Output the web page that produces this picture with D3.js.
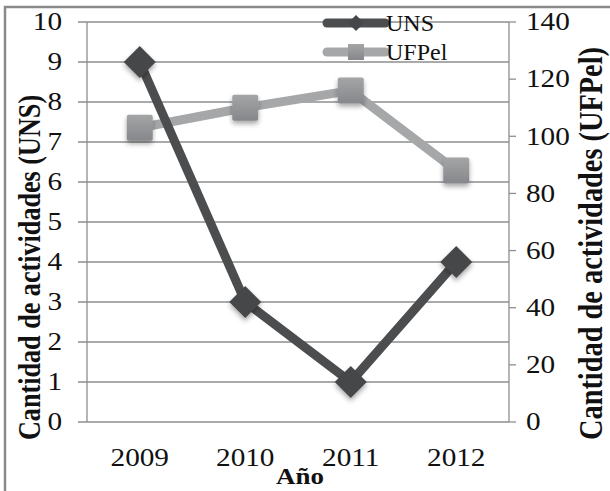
<!DOCTYPE html>
<html><head><meta charset="utf-8">
<script src="https://cdn.jsdelivr.net/npm/d3@7"></script>
<style>body{margin:0;background:#fff}svg{display:block}</style>
</head><body>
<script>
const years = ["2009","2010","2011","2012"];
const uns = [9, 3, 1, 4];
const ufpel = [103, 110, 116, 88];
const leftTicks = [0,1,2,3,4,5,6,7,8,9,10];
const rightTicks = [0,20,40,60,80,100,120,140];

const W = 610, H = 491;
const FONT = "'Liberation Serif', 'Times New Roman', 'DejaVu Serif', serif";
const SX = 1.17;
const svg = d3.select("body").append("svg").attr("width", W).attr("height", H)
  .attr("font-family", FONT);
const defs = svg.append("defs");
const f = defs.append("filter").attr("id","sh").attr("x","-50%").attr("y","-50%").attr("width","200%").attr("height","200%");
f.append("feDropShadow").attr("dx",0).attr("dy",3).attr("stdDeviation",2.5).attr("flood-color","#000").attr("flood-opacity",0.35);
const g1 = defs.append("linearGradient").attr("id","sq").attr("x1",0).attr("y1",0).attr("x2",0).attr("y2",1);
g1.append("stop").attr("offset","0%").attr("stop-color","#a3a5a7");
g1.append("stop").attr("offset","100%").attr("stop-color","#85878a");

// frame
svg.append("rect").attr("x",5).attr("y",7).attr("width",W+10).attr("height",H+10)
  .attr("fill","none").attr("stroke","#8a8a8a").attr("stroke-width",2.5);

const L = 87, R = 509, T = 22, B = 422;
const x = d3.scaleBand().domain(years).range([L,R]);
const yL = d3.scaleLinear().domain([0,10]).range([B,T]);
const yR = d3.scaleLinear().domain([0,140]).range([B,T]);

// gridlines
svg.append("g").selectAll("line").data(leftTicks).join("line")
  .attr("x1",78).attr("x2",R).attr("y1",d=>yL(d)).attr("y2",d=>yL(d))
  .attr("stroke","#8e8e8e").attr("stroke-width",1.3);
// axis lines
svg.append("line").attr("x1",L).attr("x2",L).attr("y1",T).attr("y2",B).attr("stroke","#8e8e8e").attr("stroke-width",1.3);
svg.append("line").attr("x1",R).attr("x2",R).attr("y1",T).attr("y2",B).attr("stroke","#8e8e8e").attr("stroke-width",1.3);
svg.append("g").selectAll("line").data(rightTicks).join("line")
  .attr("x1",R).attr("x2",516).attr("y1",d=>yR(d)).attr("y2",d=>yR(d))
  .attr("stroke","#8e8e8e").attr("stroke-width",1.3);

const FS = 25;
// tick labels
svg.append("g").selectAll("text").data(leftTicks).join("text")
  .attr("transform",d=>`translate(62,${yL(d)}) scale(${SX},1)`).attr("dy","0.33em").attr("text-anchor","end")
  .attr("font-size",FS).attr("fill","#111").text(d=>d);
svg.append("g").selectAll("text").data(rightTicks).join("text")
  .attr("transform",d=>`translate(526,${yR(d)}) scale(${SX},1)`).attr("dy","0.33em").attr("text-anchor","start")
  .attr("font-size",FS).attr("fill","#111").text(d=>d);
svg.append("g").selectAll("text").data(years).join("text")
  .attr("transform",d=>`translate(${x(d)+x.bandwidth()/2},466) scale(${SX},1)`).attr("text-anchor","middle")
  .attr("font-size",FS).attr("fill","#111").text(d=>d);

// titles
svg.append("text").attr("transform",`translate(300,484) scale(${SX},1)`).attr("text-anchor","middle")
  .attr("font-size",23).attr("font-weight","bold").attr("fill","#111").text("Año");
function vtitle(txt, bx, y0, y1){
  const t = svg.append("text").attr("text-anchor","middle")
    .attr("transform",`translate(${bx},${(y0+y1)/2}) rotate(-90) scale(1,${SX})`)
    .attr("font-size",23).attr("font-weight","bold").attr("fill","#111").text(txt);
  const len = t.node().getComputedTextLength();
  t.attr("font-size", 23*(y1-y0)/len);
}
vtitle("Cantidad de actividades (UNS)", 40, 95, 440);
vtitle("Cantidad de actividades (UFPel)", 602, 47, 440);

const cx = d => x(d)+x.bandwidth()/2;
const cU = "#4b4d4f", cP = "#a5a7a9";
const ms = 26;

// UFPel
svg.append("path").datum(years).attr("fill","none").attr("stroke",cP).attr("stroke-width",9)
  .attr("stroke-linejoin","round")
  .attr("d", d3.line().x(d=>cx(d)).y((d,i)=>yR(ufpel[i])));
svg.append("g").selectAll("rect").data(years).join("rect")
  .attr("x",d=>cx(d)-ms/2).attr("y",(d,i)=>yR(ufpel[i])-ms/2).attr("width",ms).attr("height",ms)
  .attr("rx",2).attr("fill","url(#sq)").attr("filter","url(#sh)");

// UNS
svg.append("path").datum(years).attr("fill","none").attr("stroke",cU).attr("stroke-width",9)
  .attr("stroke-linejoin","round")
  .attr("d", d3.line().x(d=>cx(d)).y((d,i)=>yL(uns[i])));
const dm = 16;
svg.append("g").selectAll("path").data(years).join("path")
  .attr("transform",(d,i)=>`translate(${cx(d)},${yL(uns[i])})`)
  .attr("d",`M0,${-dm}L${dm},0L0,${dm}L${-dm},0Z`).attr("fill","#45474a").attr("filter","url(#sh)");

// legend
const lg = svg.append("g");
[["UNS",cU,23,"d"],["UFPel",cP,52,"s"]].forEach(([name,col,yy,m])=>{
  lg.append("line").attr("x1",327).attr("x2",385).attr("y1",yy).attr("y2",yy)
    .attr("stroke",col).attr("stroke-width",9).attr("stroke-linecap","round");
  if(m==="d") lg.append("path").attr("transform",`translate(356,${yy})`).attr("d","M0,-8L8,0L0,8L-8,0Z").attr("fill","#45474a");
  else lg.append("rect").attr("x",348).attr("y",yy-8).attr("width",16).attr("height",16).attr("fill","url(#sq)");
  lg.append("text").attr("x",386).attr("y",yy).attr("dy","0.33em").attr("font-size",24).attr("fill","#111").text(name);
});
</script>
</body></html>
